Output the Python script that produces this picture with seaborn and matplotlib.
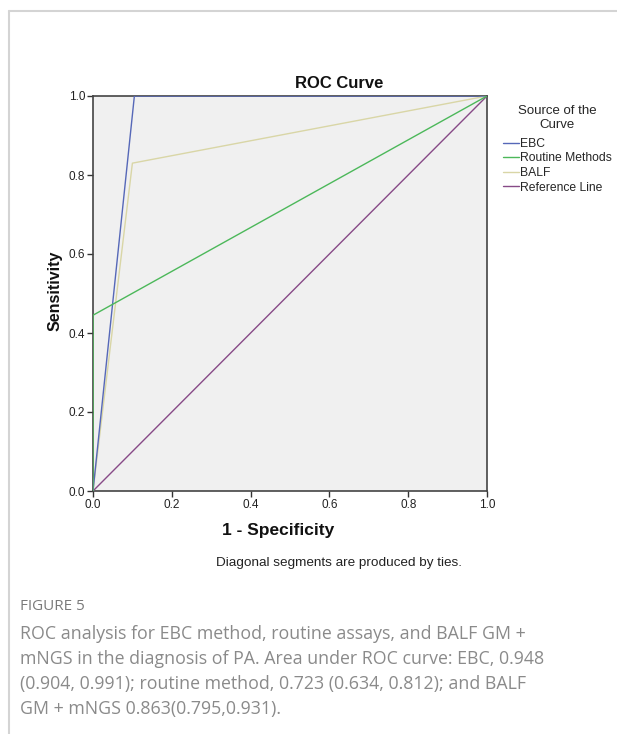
import matplotlib
matplotlib.use("Agg")
import matplotlib.pyplot as plt
import seaborn as sns
import pandas as pd
from matplotlib.lines import Line2D

# Data
curves = ["EBC", "Routine Methods", "BALF", "Reference Line"]
ebc_fpr = [0.0, 0.105, 1.0]
ebc_tpr = [0.0, 1.0, 1.0]
routine_fpr = [0.0, 0.0, 1.0]
routine_tpr = [0.0, 0.445, 1.0]
balf_fpr = [0.0, 0.10, 1.0]
balf_tpr = [0.0, 0.83, 1.0]
ref_fpr = [0.0, 1.0]
ref_tpr = [0.0, 1.0]
ticks = [0.0, 0.2, 0.4, 0.6, 0.8, 1.0]
tick_labels = ["0.0", "0.2", "0.4", "0.6", "0.8", "1.0"]
colors = {"EBC": "#5668b8", "Routine Methods": "#4cb85a",
          "BALF": "#d9d6a6", "Reference Line": "#874a87"}

rows = []
for name, xs, ys in [("EBC", ebc_fpr, ebc_tpr),
                     ("Routine Methods", routine_fpr, routine_tpr),
                     ("BALF", balf_fpr, balf_tpr),
                     ("Reference Line", ref_fpr, ref_tpr)]:
    for i, (x, y) in enumerate(zip(xs, ys)):
        rows.append({"fpr": x, "tpr": y, "curve": name, "order": i})
df = pd.DataFrame(rows)

sns.set_style("white")
plt.rcParams["font.family"] = ["Liberation Sans", "DejaVu Sans"]

W, H = 617, 734
fig = plt.figure(figsize=(W / 100, H / 100), dpi=100)
fig.patch.set_facecolor("white")

ax = fig.add_axes([93 / W, 1 - 491 / H, (487 - 93) / W, (491 - 96) / H])
ax.set_facecolor("#f0f0f0")

for name in ["Reference Line", "BALF", "EBC", "Routine Methods"]:
    sub = df[df["curve"] == name]
    sns.lineplot(data=sub, x="fpr", y="tpr", sort=False, estimator=None,
                 color=colors[name], lw=1.0, ax=ax, legend=False, zorder=3)

ax.set_xlim(0, 1)
ax.set_ylim(0, 1)
ax.set_xticks(ticks)
ax.set_xticklabels(tick_labels)
ax.set_yticks(ticks)
ax.set_yticklabels(tick_labels)
ax.tick_params(axis="both", direction="out", length=4, width=1, color="#333333",
               labelsize=8.5, labelcolor="#222222", pad=1.5,
               bottom=True, left=True)
for s in ax.spines.values():
    s.set_color("#444444")
    s.set_linewidth(1.2)
ax.set_xlabel("")
ax.set_ylabel("")

# Titles and labels
fig.text(339 / W, 1 - 83 / H, "ROC Curve", ha="center", va="center",
         fontsize=12, fontweight="bold", color="#111111")
fig.text(55 / W, 1 - 291 / H, "Sensitivity", ha="center", va="center",
         rotation=90, fontsize=11.5, fontweight="bold", color="#111111")
fig.text(278 / W, 1 - 531 / H, "1 - Specificity", ha="center", va="center",
         fontsize=12.5, fontweight="bold", color="#111111")
fig.text(339 / W, 1 - 563 / H, "Diagonal segments are produced by ties.",
         ha="center", va="center", fontsize=9.7, color="#222222")

# Legend
handles = [Line2D([0], [0], color=colors[c], lw=1.0) for c in curves]
leg = ax.legend(handles, curves, title="Source of the\nCurve",
                loc="upper left", bbox_to_anchor=(503 / W, 1 - 105 / H),
                bbox_transform=fig.transFigure, frameon=False,
                fontsize=8.7, title_fontsize=9.5, handlelength=1.3,
                handletextpad=0.1, labelspacing=0.22, borderaxespad=0,
                borderpad=0)
leg._legend_box.align = "center"
leg._legend_box.sep = 5
leg.get_title().set_multialignment("center")

# Outer frame
fig.add_artist(Line2D([9 / W, 1], [1 - 11 / H, 1 - 11 / H],
                      transform=fig.transFigure, color="#d4d4d4", lw=1.5))
fig.add_artist(Line2D([9 / W, 9 / W], [0, 1 - 11 / H],
                      transform=fig.transFigure, color="#d4d4d4", lw=1.5))

# Caption
cap_font = ["Open Sans", "DejaVu Sans"]
fig.text(20 / W, 1 - 606 / H, "FIGURE 5", ha="left", va="center",
         fontsize=11, color="#7a7a7a", family=cap_font)
cap_lines = ["ROC analysis for EBC method, routine assays, and BALF GM +",
             "mNGS in the diagnosis of PA. Area under ROC curve: EBC, 0.948",
             "(0.904, 0.991); routine method, 0.723 (0.634, 0.812); and BALF",
             "GM + mNGS 0.863(0.795,0.931)."]
for i, line in enumerate(cap_lines):
    fig.text(20 / W, 1 - (634 + 25 * i) / H, line, ha="left", va="center",
             fontsize=12.8, color="#8a8a8a", family=cap_font)

fig.savefig("out.png", dpi=100, facecolor="white")
